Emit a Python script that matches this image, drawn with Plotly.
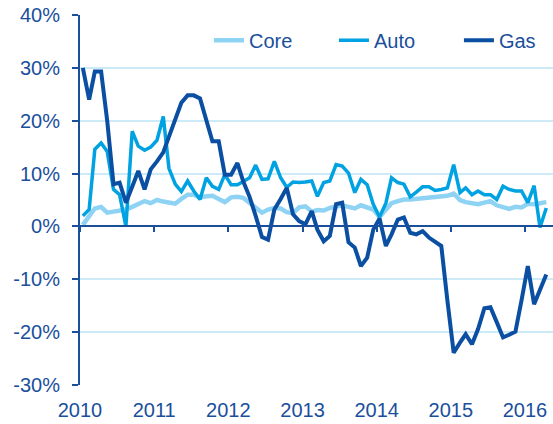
import pandas as pd
import plotly.graph_objects as go

# Monthly observations, Jan 2010 - Apr 2016 (year-over-year % change)
months = pd.date_range("2010-01-01", periods=76, freq="MS") + pd.Timedelta(days=14)

core = [0.3, 1.8, 3.4, 3.7, 2.6, 2.8, 2.9, 3.2, 3.7, 4.2, 4.8, 4.4,
        5.0, 4.7, 4.5, 4.3, 5.2, 6.0, 6.0, 5.5, 5.7, 5.8, 5.2, 4.6,
        5.5, 5.6, 5.4, 4.5, 3.6, 2.6, 3.2, 3.5, 3.4, 2.7, 2.5, 3.6,
        3.8, 2.8, 3.1, 3.0, 3.5, 3.8, 4.0, 3.7, 3.4, 4.0, 3.7, 3.2,
        1.8, 3.3, 4.4, 4.8, 5.1, 5.1, 5.2, 5.4, 5.3, 5.6, 5.7, 5.8,
        6.2, 5.0, 4.6, 4.5, 4.2, 4.5, 4.8, 4.0, 3.6, 3.3, 3.7, 3.6,
        4.3, 4.2, 4.4, 4.6]

auto = [2.0, 3.2, 14.6, 15.8, 14.2, 7.0, 6.0, 0.0, 18.0, 15.2, 14.4, 15.0,
        16.3, 20.8, 11.0, 8.0, 6.6, 8.6, 6.7, 5.1, 9.2, 7.6, 7.0, 9.8,
        7.9, 7.9, 8.5, 9.2, 11.6, 8.9, 9.0, 12.3, 9.2, 7.4, 8.4, 8.3,
        8.4, 8.6, 5.7, 8.3, 8.6, 11.7, 11.4, 10.1, 6.4, 8.9, 7.9, 4.2,
        1.8, 4.4, 9.2, 8.3, 8.0, 5.6, 6.5, 7.5, 7.5, 6.8, 7.0, 7.3,
        11.7, 6.4, 7.3, 6.0, 6.7, 6.0, 6.0, 5.1, 7.6, 7.0, 6.7, 6.7,
        4.5, 7.7, -0.2, 3.5]

gas = [30.0, 24.0, 29.3, 29.3, 20.0, 8.0, 8.3, 4.5, 7.5, 10.5, 7.0, 10.8,
       12.3, 14.0, 17.0, 20.0, 23.4, 24.8, 24.8, 24.2, 20.0, 16.1, 16.1, 9.8,
       9.8, 12.0, 8.5, 5.6, 2.0, -2.0, -2.5, 3.2, 5.2, 7.3, 2.3, 1.0,
       0.4, 2.9, -0.6, -2.8, -1.8, 4.2, 4.5, -3.0, -4.0, -7.5, -5.9, -0.6,
       1.5, -3.7, -1.5, 1.3, 1.7, -1.2, -1.5, -0.9, -2.1, -2.8, -3.7, -14.0,
       -23.9, -22.0, -20.4, -22.3, -19.4, -15.5, -15.3, -18.1, -21.0, -20.5, -19.9, -14.0,
       -7.5, -14.7, -12.0, -9.1]

y_ticks = [-30, -20, -10, 0, 10, 20, 30, 40]

DARK = "#1a4f9c"
GRID = "#cdeaf8"
FONT = "Liberation Sans, Arial, sans-serif"

fig = go.Figure()
fig.add_trace(go.Scatter(x=months, y=core, name="Core", mode="lines",
                         line=dict(color="#8fd3f4", width=4.5)))
fig.add_trace(go.Scatter(x=months, y=auto, name="Auto", mode="lines",
                         line=dict(color="#00a2e2", width=3.5)))
fig.add_trace(go.Scatter(x=months, y=gas, name="Gas", mode="lines",
                         line=dict(color="#0b4fa2", width=4)))

fig.update_layout(
    width=553, height=424,
    margin=dict(l=80, r=0, t=15, b=39, autoexpand=False),
    paper_bgcolor="white", plot_bgcolor="white",
    font=dict(family=FONT, size=20, color=DARK),
    showlegend=True,
    legend=dict(orientation="h", x=0.2726, xanchor="left", y=0.932, yanchor="middle",
                font=dict(family=FONT, size=20, color=DARK),
                entrywidth=80, entrywidthmode="pixels",
                bgcolor="rgba(0,0,0,0)", borderwidth=0),
    xaxis=dict(
        type="date",
        range=["2010-01-01", "2016-05-18"],
        tickformat="%Y", dtick="M12", tick0="2010-01-01",
        anchor="free", position=30 / 70,
        showline=True, linecolor=DARK, linewidth=2,
        ticks="outside", ticklen=5, tickwidth=2, tickcolor=DARK,
        ticklabelstandoff=161,
        showgrid=False, zeroline=False, automargin=False,
        tickfont=dict(family=FONT, size=20, color=DARK),
    ),
    yaxis=dict(
        range=[-30, 40], tickvals=y_ticks,
        ticktext=[f"{v}%" for v in y_ticks],
        showline=True, linecolor=DARK, linewidth=2,
        ticks="outside", ticklen=6, tickwidth=2, tickcolor=DARK,
        ticklabelstandoff=8,
        showgrid=True, gridcolor=GRID, gridwidth=1.5,
        zeroline=False, automargin=False,
        tickfont=dict(family=FONT, size=20, color=DARK),
    ),
)

fig.write_html("out.html",
               config={"displayModeBar": False},
               post_script="document.body.style.margin='0';document.body.style.overflow='hidden';")
